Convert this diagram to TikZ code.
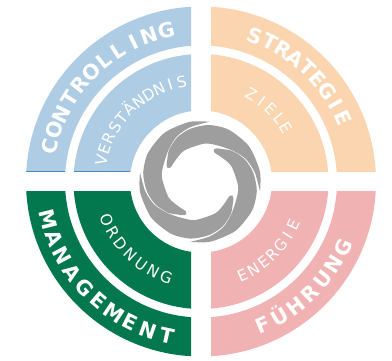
\documentclass[tikz,border=0pt]{standalone}
\usepackage{fontspec}
\setmainfont{DejaVu Sans}
\definecolor{qblue}{HTML}{AECDE5}
\definecolor{qorange}{HTML}{FBD5B0}
\definecolor{qpink}{HTML}{F1B2B3}
\definecolor{qgreen}{HTML}{03784F}
\definecolor{qgray}{HTML}{9D9E9D}
\definecolor{qline}{HTML}{4A8AC0}
\newcommand{\outerfont}{\fontsize{20.5}{21}\selectfont\bfseries}
\newcommand{\innerfont}{\fontsize{15.5}{16}\selectfont}
\newsavebox{\measurebox}
% ring text: radius, start angle, end angle, font, text name, comma list of letters
\newcommand{\ringtext}[6]{%
  \gdef\totw{0}\gdef\cnum{0}%
  \foreach \ch in {#6}{%
    \sbox{\measurebox}{#4\ch}%
    \pgfmathsetmacro{\tmpa}{\totw+\wd\measurebox/1pt}\global\let\totw\tmpa
    \pgfmathsetmacro{\tmpb}{\cnum+1}\global\let\cnum\tmpb}%
  \pgfmathsetmacro{\dirn}{#3>#2?1:-1}%
  \pgfmathsetmacro{\arclen}{abs(#3-#2)*3.14159/180*#1}%
  \pgfmathsetmacro{\gapw}{(\arclen-\totw)/(\cnum-1)}%
  \gdef\poss{0}%
  \foreach \ch [count=\i] in {#6}{%
    \sbox{\measurebox}{#4\ch}%
    \pgfmathsetmacro{\wch}{\wd\measurebox/1pt}%
    \pgfmathsetmacro{\ang}{#2+\dirn*(\poss+\wch/2)/#1*180/3.14159}%
    \pgfmathsetmacro{\rot}{\ang+\dirn*90}%
    \node[lettermark,font=#4,rotate=\rot] (#5-\i) at (\ang:#1pt) {\ch};
    \pgfmathsetmacro{\tmpc}{\poss+\wch+\gapw}\global\let\poss\tmpc}%
}
% annular quadrant: clip x0,y0,x1,y1, colour
\newcommand{\quadrant}[5]{%
  \begin{scope}
    \clip (#1,#2) rectangle (#3,#4);
    \fill[#5,even odd rule] (ctr) circle[radius=175pt] (ctr) circle[radius=136pt];
    \fill[#5,even odd rule] (ctr) circle[radius=127.5pt] (ctr) circle[radius=71pt];
  \end{scope}}
\tikzset{blade/.style={fill=qgray,draw=none},
  lettermark/.style={text=white,inner sep=0pt,anchor=base}}
\begin{document}
\begin{tikzpicture}[x=1pt,y=1pt]
\useasboundingbox (0,0) rectangle (392,361);
\coordinate (ctr) at (201,179.5);
\quadrant{0}{189.5}{191}{361}{qblue}
\quadrant{211}{189.5}{392}{361}{qorange}
\quadrant{0}{0}{191}{169.5}{qgreen}
\quadrant{211}{0}{392}{169.5}{qpink}
\draw[qline,line width=0.6pt] (26.3,189.7) -- (65,189.7) (74,189.7) -- (130,189.7);
\begin{scope}[shift={(ctr)}]
  \ringtext{147.5}{167}{103}{\outerfont}{ca}{C,O,N,T,R,O,L,L,I,N,G}
  \ringtext{96}{168}{101}{\innerfont}{vb}{V,E,R,S,T,Ä,N,D,N,I,S}
  \ringtext{148}{69.5}{24}{\outerfont}{sa}{S,T,R,A,T,E,G,I,E}
  \ringtext{95}{60}{32}{\innerfont}{zb}{Z,I,E,L,E}
  \ringtext{165}{194}{257.5}{\outerfont}{ma}{M,A,N,A,G,E,M,E,N,T}
  \ringtext{107.5}{202}{250}{\innerfont}{ob}{O,R,D,N,U,N,G}
  \ringtext{164}{293.5}{335}{\outerfont}{fa}{F,Ü,H,R,U,N,G}
  \ringtext{108}{294}{335}{\innerfont}{eb}{E,N,E,R,G,I,E}
\end{scope}
\begin{scope}[shift={(200,179.2)}]
  \foreach \rot in {0,90,180,270}{
    \begin{scope}[rotate=\rot]
    \fill[blade] plot[smooth,tension=0.45] coordinates {
      (-9:60.8) (10:60.8) (36:60.5) (61:59.5) (81:57.5) (100:54) (117:50) (134:44.5) (146:39.5)
      (153:37.5) (157:35) (153:32.5) (143:32.5) (117:35) (83:38.5) (63:40.5) (44:45) (27:51) (10:55.5) (-9:60.8)} -- cycle;
    \end{scope}
  }
\end{scope}
\end{tikzpicture}
\end{document}
